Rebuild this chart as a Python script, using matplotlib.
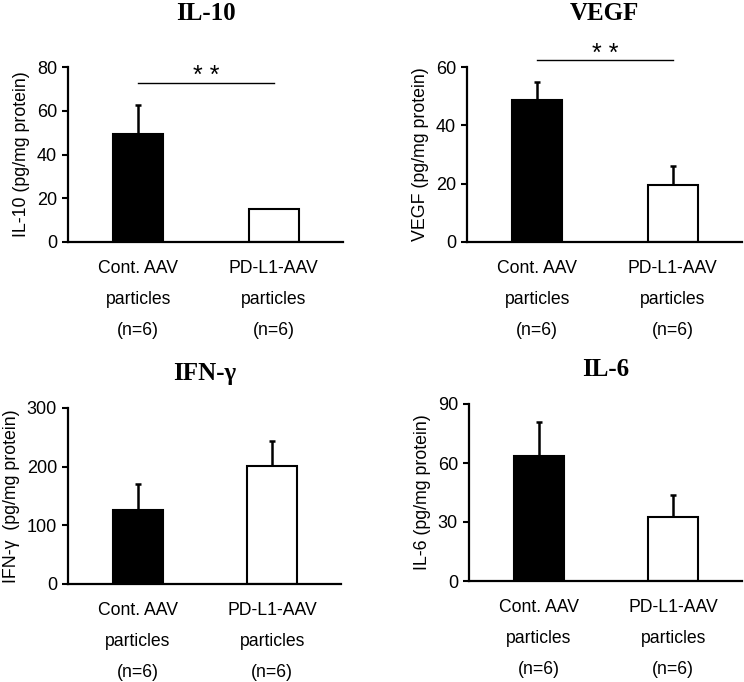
import matplotlib
matplotlib.use("Agg")
import matplotlib.pyplot as plt

plt.rcParams['font.family'] = ['Liberation Sans', 'DejaVu Sans']

categories = ["Cont. AAV\nparticles\n(n=6)", "PD-L1-AAV\nparticles\n(n=6)"]
titles = ["IL-10", "VEGF", "IFN-\u03b3", "IL-6"]
ylabels = ["IL-10 (pg/mg protein)", "VEGF (pg/mg protein)",
           "IFN-\u03b3  (pg/mg protein)", "IL-6 (pg/mg protein)"]
il10_mean = [49.4, 15.2]
il10_err = [13.2, 0.0]
vegf_mean = [48.6, 19.6]
vegf_err = [6.4, 6.6]
ifng_mean = [126, 201]
ifng_err = [44, 43]
il6_mean = [63.7, 32.3]
il6_err = [16.9, 11.5]
yticks = [[0, 20, 40, 60, 80], [0, 20, 40, 60], [0, 100, 200, 300], [0, 30, 60, 90]]
sig_y = [72.8, 62.3, None, None]
sig_label = "* *"

means = [il10_mean, vegf_mean, ifng_mean, il6_mean]
errs = [il10_err, vegf_err, ifng_err, il6_err]

W, H = 744, 682
fig = plt.figure(figsize=(W / 100, H / 100), dpi=100)

# axes rects in pixels: left, right, top, bottom
rects_px = [(68, 343, 67, 242), (467, 742, 67, 242),
            (68, 341, 408, 584), (469, 742, 404, 581)]
title_off = [53, 53, 35, 35]

for i in range(4):
    l, r, t, b = rects_px[i]
    ax = fig.add_axes([l / W, 1 - b / H, (r - l) / W, (b - t) / H])
    x = [0, 1]
    ax.bar(x, means[i], width=0.37, color=['black', 'white'],
           edgecolor='black', linewidth=1.5, zorder=2)
    ax.errorbar(x, means[i], yerr=[[0, 0], errs[i]], fmt='none',
                ecolor='black', elinewidth=1.8, capsize=2.2, capthick=1.8, zorder=1)
    ax.set_xlim(-0.517, 1.51)
    ax.set_ylim(0, yticks[i][-1])
    ax.set_yticks(yticks[i])
    ax.set_xticks(x)
    ax.set_xticklabels(categories, fontsize=12.7, linespacing=2.08)
    ax.tick_params(axis='x', length=0, pad=13)
    ax.tick_params(axis='y', length=4, width=1.5, direction='out', labelsize=13, pad=4)
    for s in ['top', 'right']:
        ax.spines[s].set_visible(False)
    for s in ['left', 'bottom']:
        ax.spines[s].set_linewidth(1.6)
    ax.set_ylabel(ylabels[i], fontsize=12.8, labelpad=5)
    ax.text(0.5, 1 + title_off[i] / (b - t), titles[i], transform=ax.transAxes,
            ha='center', va='center', fontsize=18, fontweight='bold',
            family=['Liberation Serif', 'DejaVu Serif'])
    if sig_y[i] is not None:
        ax.plot([0, 1], [sig_y[i], sig_y[i]], color='black', lw=1.0, clip_on=False)
        ax.text(0.5, sig_y[i] - yticks[i][-1] * 0.03, sig_label, ha='center', va='bottom',
                fontsize=18, clip_on=False)

fig.savefig("out.png", dpi=100)
